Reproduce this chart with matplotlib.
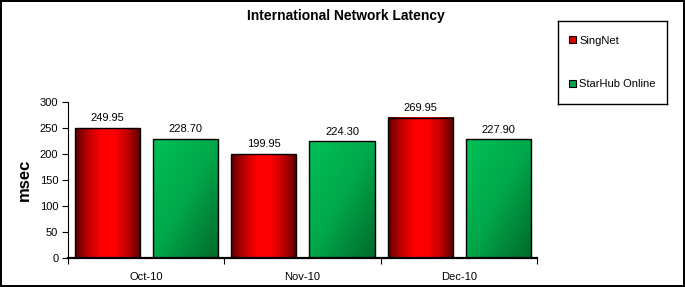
import numpy as np
import matplotlib.pyplot as plt
from matplotlib.patches import Patch
from matplotlib.colors import LinearSegmentedColormap

plt.rcParams['font.family'] = ['Liberation Sans', 'DejaVu Sans']

# Daten
monate = ['Oct-10', 'Nov-10', 'Dec-10']
singnet = [249.95, 199.95, 269.95]
starhub = [228.70, 224.30, 227.90]
serien = ['SingNet', 'StarHub Online']

W, H = 685, 287
fig = plt.figure(figsize=(W / 100, H / 100), dpi=100)
fig.patch.set_edgecolor('black')
fig.patch.set_linewidth(1.5)

# Plotbereich in Pixeln: links 68, rechts 537, oben 102, unten 258
ax = fig.add_axes([68 / W, (H - 258) / H, (537 - 68) / W, (258 - 102) / H])

rot = LinearSegmentedColormap.from_list('rot', ['#5c0000', '#c00000', '#ff0000', '#ff0000', '#c00000', '#5c0000'])
gruen = LinearSegmentedColormap.from_list('gruen', ['#00c057', '#00a84a', '#006a2a'])

x = np.arange(len(monate))
breite = 0.417
b1 = ax.bar(x + 0.253, singnet, breite, facecolor='none', edgecolor='black', linewidth=1, zorder=3)
b2 = ax.bar(x + 0.753, starhub, breite, facecolor='none', edgecolor='black', linewidth=1, zorder=3)

# Farbverlauf in die Balken legen
grad_h = np.linspace(0, 1, 100).reshape(1, -1)
gx, gy = np.meshgrid(np.linspace(0, 1, 60), np.linspace(0, 1, 60))
grad_d = (gx + gy) / 2
for bar in b1:
    x0, w, h = bar.get_x(), bar.get_width(), bar.get_height()
    ax.imshow(grad_h, cmap=rot, extent=[x0, x0 + w, 0, h], aspect='auto', zorder=2, origin='lower')
for bar in b2:
    x0, w, h = bar.get_x(), bar.get_width(), bar.get_height()
    ax.imshow(grad_d, cmap=gruen, extent=[x0, x0 + w, 0, h], aspect='auto', zorder=2, origin='upper')

for balken, werte in [(b1, singnet), (b2, starhub)]:
    for bar, v in zip(balken, werte):
        ax.annotate(f'{v:.2f}', (bar.get_x() + bar.get_width() / 2, v), xytext=(0, 3.5),
                    textcoords='offset points', ha='center', va='bottom', fontsize=8)

ax.set_xlim(0, 3)
ax.set_ylim(0, 300)
ax.set_yticks(range(0, 301, 50))
ax.set_xticks([0, 1, 2, 3])
ax.set_xticklabels([])
ax.set_xticks(x + 0.5, minor=True)
ax.set_xticklabels(monate, minor=True)
ax.tick_params(axis='x', which='minor', length=0, pad=10, labelsize=8)
ax.tick_params(axis='x', which='major', length=4, direction='out')
ax.tick_params(axis='y', length=4, labelsize=8, pad=3)
ax.spines['top'].set_visible(False)
ax.spines['right'].set_visible(False)
ax.spines['bottom'].set_linewidth(1.6)
ax.set_ylabel('msec', fontsize=12, fontweight='bold', labelpad=6)

fig.text(346 / W, 1 - 16 / H, 'International Network Latency', ha='center', va='center',
         fontsize=10, fontweight='bold')

# Legende
lax = fig.add_axes([558 / W, (H - 104) / H, (667 - 558) / W, (104 - 21) / H])
lax.set_xticks([])
lax.set_yticks([])
for s in lax.spines.values():
    s.set_linewidth(1)
handles = [Patch(facecolor='#e00000', edgecolor='black', linewidth=0.8),
           Patch(facecolor='#00a04a', edgecolor='black', linewidth=0.8)]
lax.legend(handles, serien, loc='center', frameon=False, fontsize=8, labelspacing=3.0,
           handlelength=0.6, handleheight=0.6, handletextpad=0.3)

fig.savefig('out.png', dpi=100)
